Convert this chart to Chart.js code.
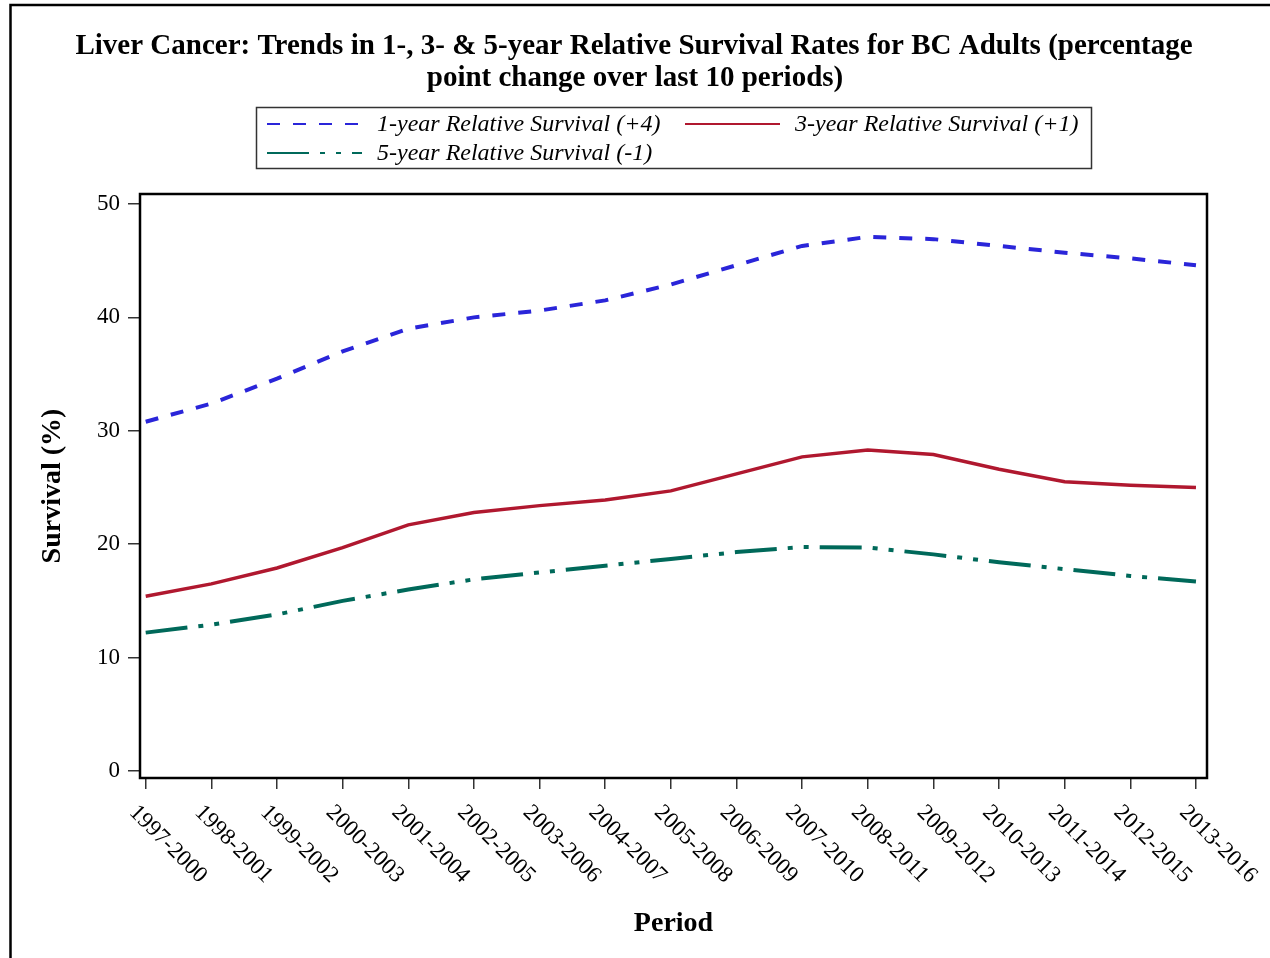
<!DOCTYPE html>
<html>
<head>
<meta charset="utf-8">
<script src="https://cdn.jsdelivr.net/npm/chart.js@4"></script>
<style>
  html, body { margin: 0; padding: 0; background: #fff; }
  #wrap { width: 1270px; height: 958px; position: relative; }
</style>
</head>
<body>
<div id="wrap"><canvas id="chart" width="1270" height="958"></canvas></div>
<script>
const periods = ['1997-2000', '1998-2001', '1999-2002', '2000-2003', '2001-2004', '2002-2005',
  '2003-2006', '2004-2007', '2005-2008', '2006-2009', '2007-2010', '2008-2011',
  '2009-2012', '2010-2013', '2011-2014', '2012-2015', '2013-2016'];
const oneYear = [30.8, 32.4, 34.6, 37.0, 39.0, 40.0, 40.6, 41.5, 42.9, 44.6, 46.3, 47.1, 46.9, 46.3, 45.7, 45.2, 44.6];
const threeYear = [15.4, 16.5, 17.9, 19.7, 21.7, 22.8, 23.4, 23.9, 24.7, 26.2, 27.7, 28.3, 27.9, 26.6, 25.5, 25.2, 25.0];
const fiveYear = [12.2, 12.9, 13.8, 15.0, 16.0, 16.9, 17.5, 18.1, 18.7, 19.3, 19.75, 19.7, 19.1, 18.4, 17.8, 17.2, 16.7];
const yTicks = [0, 10, 20, 30, 40, 50];
const seriesLabels = ['1-year Relative Survival (+4)', '3-year Relative Survival (+1)', '5-year Relative Survival (-1)'];
const titleLines = ['Liver Cancer: Trends in 1-, 3- & 5-year Relative Survival Rates for BC Adults (percentage',
  'point change over last 10 periods)'];

const serif = "'Liberation Serif', 'Times New Roman', serif";

const toPoints = arr => arr.map((v, i) => ({ x: i, y: v }));

// frame, title, plot border, rotated period labels and the boxed legend
const decorations = {
  id: 'decorations',
  afterDraw(chart) {
    const ctx = chart.ctx;
    const a = chart.chartArea;
    ctx.save();
    // outer frame (right/bottom sides fall outside the picture)
    ctx.strokeStyle = '#000';
    ctx.lineWidth = 2.5;
    ctx.strokeRect(10.5, 5, 1400, 1100);
    // plot frame
    ctx.strokeRect(a.left, a.top, a.right - a.left, a.bottom - a.top);

    // title
    ctx.fillStyle = '#000';
    ctx.font = 'bold 29px ' + serif;
    ctx.textAlign = 'center';
    ctx.textBaseline = 'middle';
    ctx.fillText(titleLines[0], 634, 47);
    ctx.fillText(titleLines[1], 635, 79);

    // x tick labels rotated 45 deg clockwise
    const xs = chart.scales.x;
    ctx.font = '23px ' + serif;
    ctx.textAlign = 'left';
    periods.forEach((p, i) => {
      const px = xs.getPixelForValue(i);
      ctx.save();
      ctx.translate(px - 13, 809);
      ctx.rotate(Math.PI / 4);
      ctx.fillText(p, 0, 0);
      ctx.restore();
    });

    // legend
    ctx.lineWidth = 1.5;
    ctx.strokeStyle = '#333';
    ctx.strokeRect(256.5, 107.5, 835, 61);
    const slots = [
      { x: 267, y: 124 },
      { x: 685, y: 124 },
      { x: 267, y: 153 }
    ];
    ctx.font = 'italic 24px ' + serif;
    chart.data.datasets.forEach((ds, i) => {
      const s = slots[i];
      ctx.save();
      ctx.strokeStyle = ds.borderColor;
      ctx.lineWidth = 2;
      ctx.setLineDash(ds.borderDash || []);
      ctx.beginPath();
      ctx.moveTo(s.x, s.y);
      ctx.lineTo(s.x + 95, s.y);
      ctx.stroke();
      ctx.restore();
      ctx.fillStyle = '#000';
      ctx.fillText(ds.label, s.x + 110, s.y + 1);
    });
    ctx.restore();
  }
};

new Chart(document.getElementById('chart'), {
  type: 'line',
  data: {
    datasets: [
      {
        label: seriesLabels[0],
        data: toPoints(oneYear),
        borderColor: '#2a25d9',
        borderWidth: 4,
        borderDash: [13, 13],
        pointRadius: 0,
        tension: 0
      },
      {
        label: seriesLabels[1],
        data: toPoints(threeYear),
        borderColor: '#b0182f',
        borderWidth: 3.5,
        pointRadius: 0,
        tension: 0
      },
      {
        label: seriesLabels[2],
        data: toPoints(fiveYear),
        borderColor: '#00695a',
        borderWidth: 4,
        borderDash: [42, 11, 5, 11, 5, 11],
        pointRadius: 0,
        tension: 0
      }
    ]
  },
  options: {
    responsive: false,
    animation: false,
    layout: { padding: { left: 0, right: 63, top: 194, bottom: 0 } },
    plugins: {
      legend: { display: false },
      tooltip: { enabled: false },
      title: { display: false }
    },
    scales: {
      x: {
        type: 'linear',
        min: -0.087,
        max: 16.168,
        afterBuildTicks: s => { s.ticks = periods.map((p, i) => ({ value: i })); },
        afterFit: s => { s.height = 180; },
        grid: { drawOnChartArea: false, drawTicks: true, tickLength: 11, color: '#333', lineWidth: 1.5 },
        border: { display: false },
        ticks: { display: false },
        title: {
          display: true,
          text: 'Period',
          color: '#000',
          font: { family: serif, size: 28, weight: 'bold' },
          padding: { top: 0, bottom: 17 }
        }
      },
      y: {
        min: -0.62,
        max: 50.88,
        afterBuildTicks: s => { s.ticks = yTicks.map(v => ({ value: v })); },
        afterFit: s => { s.width = 140; },
        grid: { drawOnChartArea: false, drawTicks: true, tickLength: 12, color: '#333', lineWidth: 1.5 },
        border: { display: false },
        ticks: {
          color: '#000',
          font: { family: serif, size: 23 },
          padding: 8,
          callback: v => String(v)
        },
        title: {
          display: true,
          text: 'Survival (%)',
          color: '#000',
          font: { family: serif, size: 28, weight: 'bold' },
          padding: { top: 36, bottom: 0 }
        }
      }
    }
  },
  plugins: [decorations]
});
</script>
</body>
</html>
